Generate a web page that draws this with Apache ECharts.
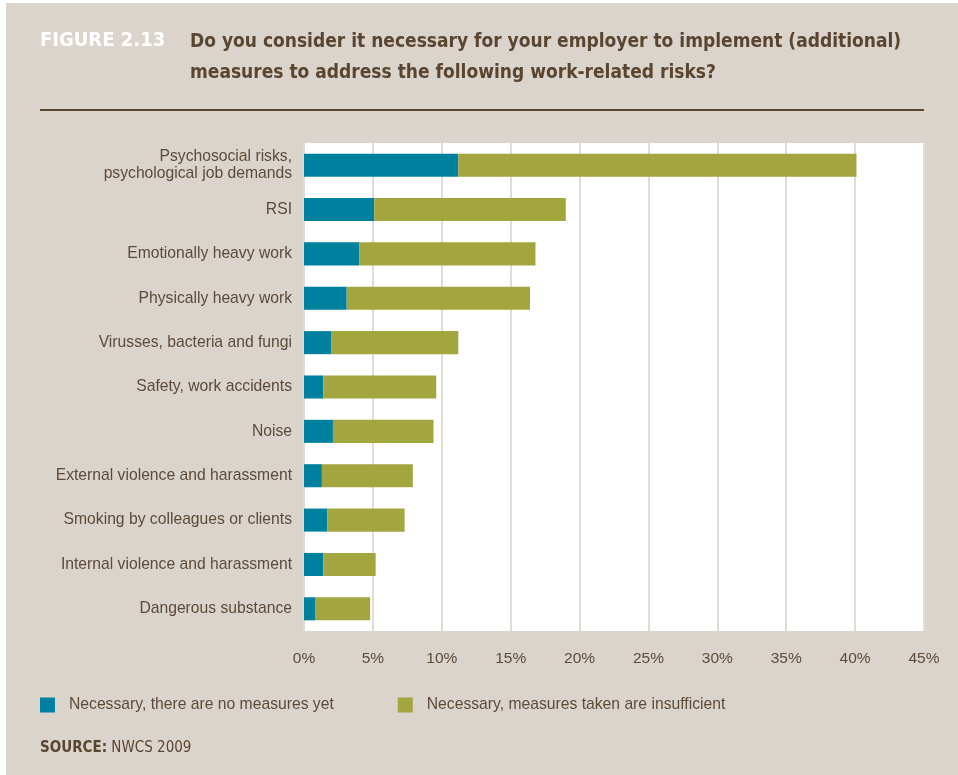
<!DOCTYPE html>
<html>
<head>
<meta charset="utf-8">
<script src="https://cdn.jsdelivr.net/npm/echarts@6/dist/echarts.min.js"></script>
<style>
  html, body { margin: 0; padding: 0; background: #ffffff; }
  #chart { position: absolute; left: 6px; top: 3px; width: 952px; height: 772px; }
</style>
</head>
<body>
<div id="chart"></div>
<script>
// Work-related risks, top to bottom
const categories = [
  'Psychosocial risks,\npsychological job demands',
  'RSI',
  'Emotionally heavy work',
  'Physically heavy work',
  'Virusses, bacteria and fungi',
  'Safety, work accidents',
  'Noise',
  'External violence and harassment',
  'Smoking by colleagues or clients',
  'Internal violence and harassment',
  'Dangerous substance'
];
// Share of employees (%)
const noMeasuresYet = [11.2, 5.1, 4.0, 3.1, 2.0, 1.4, 2.1, 1.3, 1.7, 1.4, 0.8];
const insufficientMeasures = [28.9, 13.9, 12.8, 13.3, 9.2, 8.2, 7.3, 6.6, 5.6, 3.8, 4.0];
const seriesNames = ['Necessary, there are no measures yet', 'Necessary, measures taken are insufficient'];
const axisTicks = [0, 5, 10, 15, 20, 25, 30, 35, 40, 45];

const brown = '#5a4530';
const labelColor = '#5c4b3a';
const narrow = '"Liberation Sans Narrow", "DejaVu Sans Condensed", "Liberation Sans", sans-serif';
const body = '"Liberation Sans", Arial, sans-serif';

const chart = echarts.init(document.getElementById('chart'));
chart.setOption({
  backgroundColor: '#dbd4cc',
  animation: false,
  textStyle: { fontFamily: body },
  graphic: [
    { type: 'text', x: 34, y: 28,
      style: { text: 'FIGURE 2.13', fill: '#ffffff', font: 'bold 20px ' + narrow } },
    { type: 'text', x: 184, y: 23, scaleX: 0.95,
      style: { text: 'Do you consider it necessary for your employer to implement (additional)\nmeasures to address the following work-related risks?',
               fill: brown, font: 'bold 20px ' + narrow, lineHeight: 31 } },
    { type: 'rect', x: 34, y: 106,
      shape: { width: 884, height: 2 }, style: { fill: brown } },
    { type: 'text', x: 34, y: 738,
      style: { text: '{b|SOURCE:} NWCS 2009', fill: brown, font: '15px ' + narrow,
               rich: { b: { font: 'bold 15px ' + narrow, fill: brown } } } }
  ],
  legend: {
    data: seriesNames,
    left: 34, top: 694, padding: 0,
    itemWidth: 15, itemHeight: 15, itemGap: 64,
    icon: 'rect',
    textStyle: { color: labelColor, fontSize: 15.7, fontFamily: body, padding: [0, 0, 0, 9] }
  },
  grid: { left: 298, right: 34, top: 140, bottom: 144, containLabel: false,
          show: true, backgroundColor: '#ffffff', borderWidth: 0 },
  xAxis: {
    type: 'value', min: 0, max: 45, interval: 5,
    axisLine: { show: false }, axisTick: { show: false },
    splitLine: { show: true, lineStyle: { color: '#e2dcd6', width: 2 } },
    axisLabel: {
      color: labelColor, fontSize: 15.5, margin: 20,
      formatter: v => axisTicks.includes(v) ? v + '%' : ''
    }
  },
  yAxis: {
    type: 'category', data: categories, inverse: true,
    axisLine: { show: false }, axisTick: { show: false },
    axisLabel: { color: labelColor, fontSize: 15.7, margin: 12, lineHeight: 17, align: 'right' }
  },
  series: [
    { name: seriesNames[0], type: 'bar', stack: 'total', data: noMeasuresYet,
      barWidth: '52%', itemStyle: { color: '#00809f' } },
    { name: seriesNames[1], type: 'bar', stack: 'total', data: insufficientMeasures,
      barWidth: '52%', itemStyle: { color: '#a3a53e' } }
  ]
});
</script>
</body>
</html>
